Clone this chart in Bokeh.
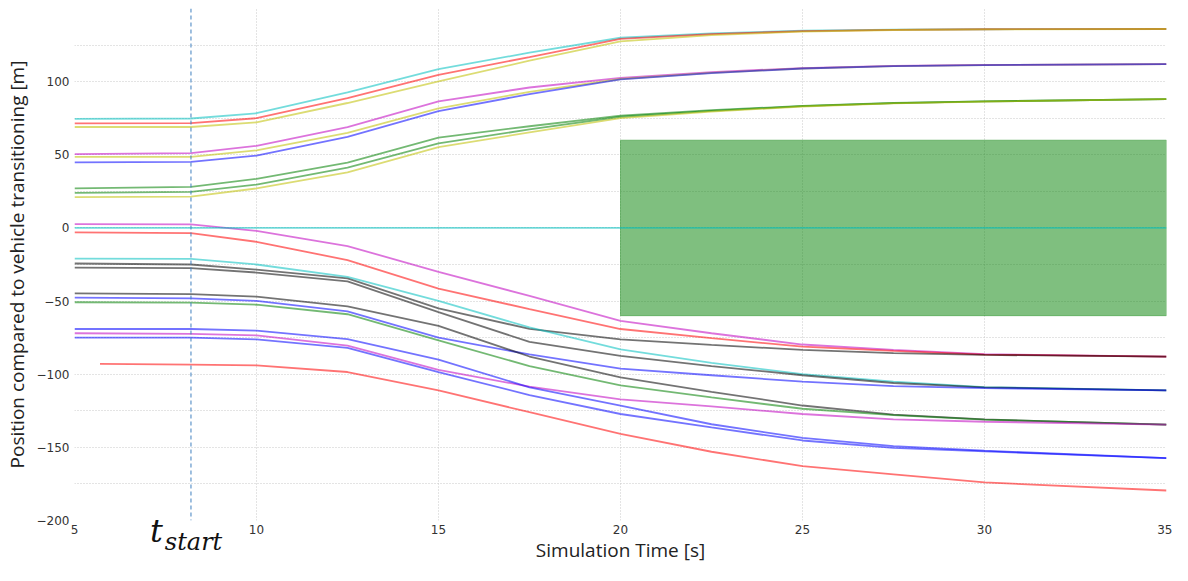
from bokeh.plotting import figure
from bokeh.models import Range1d, FixedTicker, Span, Div
from bokeh.layouts import column
from bokeh.embed import file_html
from bokeh.resources import INLINE

# ---- data ----
T = [5, 8.2, 10, 12.5, 15, 17.5, 20, 22.5, 25, 27.5, 30, 35]
T_RED_LOW = [5.7, 8.2, 10, 12.5, 15, 17.5, 20, 22.5, 25, 27.5, 30, 35]

cyan_top   = [74.5, 74.8, 78.4, 92.7, 108.6, 119.8, 130.0, 133.0, 134.8, 135.5, 135.8, 136.0]
red_top    = [71.5, 71.6, 75.0, 88.7, 104.6, 116.8, 129.2, 132.5, 134.5, 135.4, 135.8, 136.0]
yellow_top = [69.0, 69.0, 72.2, 85.4, 100.2, 114.3, 127.5, 131.8, 134.2, 135.3, 135.7, 136.0]

magenta_mid = [50.5, 51.2, 56.1, 68.9, 86.5, 96.0, 102.6, 106.5, 109.3, 110.8, 111.4, 112.0]
yellow_mid  = [48.6, 48.6, 53.0, 64.9, 81.7, 93.0, 101.8, 106.0, 109.0, 110.6, 111.3, 112.0]
blue_mid    = [44.8, 45.2, 49.4, 62.3, 79.9, 91.5, 101.5, 105.8, 109.0, 110.6, 111.3, 112.0]

green_low1 = [27.0, 28.0, 33.6, 44.6, 61.8, 69.5, 76.8, 80.5, 83.4, 85.4, 86.5, 88.0]
green_low2 = [24.0, 24.7, 29.6, 41.3, 57.8, 67.3, 76.0, 80.0, 83.2, 85.3, 86.5, 88.0]
yellow_low = [21.0, 21.4, 27.0, 37.9, 55.2, 65.3, 75.0, 79.5, 83.0, 85.2, 86.4, 88.0]

cyan_zero = [0, 0, 0, 0, 0, 0, 0, 0, 0, 0, 0, 0]

magenta_n1 = [2.6, 2.4, -2.0, -12.4, -30.0, -46.5, -63.6, -72.0, -79.7, -83.4, -86.3, -88.0]
red_n1     = [-3.1, -3.5, -9.5, -22.0, -41.5, -55.5, -69.1, -75.3, -81.2, -84.1, -86.6, -88.0]
black_n1   = [-24.3, -25.0, -28.5, -34.5, -55.0, -69.0, -76.2, -80.0, -83.4, -85.6, -86.8, -88.0]
cyan_n     = [-21.0, -21.2, -25.0, -33.5, -49.9, -68.0, -83.0, -92.3, -100.0, -105.1, -108.8, -111.0]
black_n2   = [-27.2, -27.5, -30.5, -36.5, -57.5, -77.9, -87.4, -94.5, -100.7, -106.0, -109.0, -111.0]
blue_n1    = [-47.7, -48.1, -49.9, -57.0, -75.0, -86.5, -96.2, -100.7, -105.1, -108.2, -109.5, -111.0]
black_n3   = [-44.8, -45.3, -47.0, -53.6, -66.9, -87.9, -102.2, -112.0, -121.4, -127.6, -130.9, -134.4]
green_n    = [-50.8, -51.0, -52.5, -59.0, -76.8, -94.5, -107.7, -115.9, -123.6, -128.0, -131.0, -134.4]
magenta_n2 = [-72.0, -72.4, -73.5, -80.5, -97.0, -108.5, -117.2, -122.0, -127.2, -130.9, -132.5, -134.4]
blue_n2    = [-69.1, -69.1, -70.2, -76.0, -90.0, -109.0, -121.4, -134.2, -143.5, -149.2, -152.3, -157.4]
blue_n3    = [-75.0, -75.0, -76.2, -82.0, -98.5, -114.3, -127.2, -136.4, -145.3, -150.3, -152.8, -157.4]
red_n2     = [-92.9, -93.4, -94.0, -98.5, -111.0, -126.0, -140.8, -153.0, -162.9, -168.4, -174.0, -179.5]

T_START = 8.2
ZONE_X = [20, 35]
ZONE_Y = [-60, 60]

X_TICKS = [5, 10, 15, 20, 25, 30, 35]
Y_TICKS = [-200, -150, -100, -50, 0, 50, 100]
Y_GRID = [-175, -150, -125, -100, -75, -50, -25, 0, 25, 50, 75, 100, 125]
X_GRID = [10, 15, 20, 25, 30]

C = {"b": "#0000ff", "g": "#008000", "r": "#ff0000", "c": "#00bfbf",
     "m": "#bf00bf", "y": "#bfbf00", "k": "#000000"}

series = [
    (T, cyan_top, "c"), (T, red_top, "r"), (T, yellow_top, "y"),
    (T, magenta_mid, "m"), (T, yellow_mid, "y"), (T, blue_mid, "b"),
    (T, green_low1, "g"), (T, green_low2, "g"), (T, yellow_low, "y"),
    (T, magenta_n1, "m"), (T, red_n1, "r"), (T, black_n1, "k"),
    (T, cyan_n, "c"), (T, black_n2, "k"), (T, blue_n1, "b"),
    (T, black_n3, "k"), (T, green_n, "g"), (T, magenta_n2, "m"),
    (T, blue_n2, "b"), (T, blue_n3, "b"), (T_RED_LOW, red_n2, "r"),
]

FIG_W, FIG_H = 1172, 565

p = figure(width=FIG_W, height=FIG_H, output_backend="svg", toolbar_location=None,
           x_range=Range1d(5, 35), y_range=Range1d(-200, 150),
           min_border_left=74, min_border_right=6, min_border_top=8, min_border_bottom=36)
p.outline_line_color = None
p.background_fill_color = "white"

# green zone
p.quad(left=[ZONE_X[0]], right=[ZONE_X[1]], bottom=[ZONE_Y[0]], top=[ZONE_Y[1]],
       fill_color="#008000", fill_alpha=0.5, line_color="#008000", line_alpha=0.4)

for xs, ys, c in series:
    p.line(xs, ys, line_color=C[c], line_alpha=0.55, line_width=1.8)

p.line(T, cyan_zero, line_color=C["c"], line_alpha=0.55, line_width=1.8)

p.add_layout(Span(location=T_START, dimension="height", line_color="#3f7fbf",
                  line_dash="4 3", line_width=1))

# axes
for ax in (p.xaxis[0], p.yaxis[0]):
    ax.axis_line_color = None
    ax.major_tick_line_color = None
    ax.minor_tick_line_color = None
    ax.major_tick_out = 0
    ax.major_tick_in = 0
    ax.minor_tick_out = 0
    ax.minor_tick_in = 0
    ax.major_label_text_font = "DejaVu Sans"
    ax.major_label_text_font_size = "12px"
    ax.major_label_text_color = "#333333"
    ax.axis_label_text_font = "Open Sans"
    ax.axis_label_text_font_size = "19px"
    ax.axis_label_text_font_style = "normal"
    ax.axis_label_text_color = "#222222"

p.xaxis.ticker = FixedTicker(ticks=X_TICKS)
p.yaxis.ticker = FixedTicker(ticks=Y_TICKS)
p.yaxis.major_label_overrides = {v: (str(v).replace("-", "\u2212")) for v in Y_TICKS}
p.xaxis.major_label_standoff = 4
p.yaxis.major_label_standoff = 5
p.xaxis.axis_label = "Simulation Time [s]"
p.yaxis.axis_label = "Position compared to vehicle transitioning [m]"
p.xaxis.axis_label_standoff = 0
p.yaxis.axis_label_standoff = 4

p.xgrid.ticker = FixedTicker(ticks=X_GRID)
p.ygrid.ticker = FixedTicker(ticks=Y_GRID)
for g in (p.xgrid[0], p.ygrid[0]):
    g.grid_line_color = "#c8c8c8"
    g.grid_line_dash = "1 2"
    g.grid_line_width = 1

# t_start label, overlaid just below the plot frame
tstart_html = (
    '<span style="font-family:\'DejaVu Serif\';font-style:italic;font-size:32px;'
    'line-height:30px;color:#111111;white-space:nowrap;">t'
    '<span style="font-size:24px;position:relative;top:8px;margin-left:2px;">start</span></span>'
)
tdiv = Div(text=tstart_html, width=120, height=36, margin=(-49, 0, 0, 150))

layout = column(p, tdiv, spacing=0)

open("out.html", "w").write(file_html(layout, INLINE))
